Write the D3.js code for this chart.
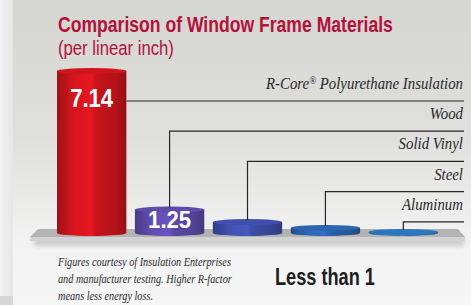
<!DOCTYPE html>
<html><head><meta charset="utf-8">
<script src="https://cdn.jsdelivr.net/npm/d3@7"></script>
<style>
html,body{margin:0;padding:0;background:#efefef;}
svg{display:block;}
</style></head>
<body>
<svg id="chart" width="471" height="305"></svg>
<script>
// ---- data ----
const materials = ["R-Core® Polyurethane Insulation", "Wood", "Solid Vinyl", "Steel", "Aluminum"];
const rValues = [7.14, 1.25, 0.72, 0.47, 0.30];
const valueLabels = ["7.14", "1.25", "", "", ""];
const barColors = ["#c8141c", "#5a49a6", "#3d4ca6", "#2a60a8", "#2b72b6"];
const titleText = "Comparison of Window Frame Materials";
const subtitleText = "(per linear inch)";
const noteLines = ["Figures courtesy of Insulation Enterprises", "and manufacturer testing. Higher R-factor", "means less energy loss."];
const lessText = "Less than 1";

// ---- layout ----
const W = 471, H = 305;
const base = 236;
const svg = d3.select("#chart");
const defs = svg.append("defs");

const x = d3.scaleBand().domain(materials).range([57, 438]).paddingInner(0.11);
const y = d3.scaleLinear().domain([0, 7.14]).range([base, 68]);

const sansN = "'Liberation Sans Narrow','Liberation Sans',Arial,sans-serif";
const serif = "'Liberation Serif','Times New Roman',serif";

function fit(sel, target, ax, ay, anchor) {
  const nat = sel.node().getComputedTextLength();
  const k = Math.min(1.2, target / nat);
  sel.attr("x", 0).attr("y", 0).attr("text-anchor", anchor || "start")
     .attr("transform", `translate(${ax},${ay}) scale(${k},1)`);
  return sel;
}

// backgrounds
const bgL = defs.append("linearGradient").attr("id", "bgL").attr("x1", 0).attr("x2", 1).attr("y1", 0).attr("y2", 0);
bgL.append("stop").attr("offset", 0).attr("stop-color", "#f3f3f3");
bgL.append("stop").attr("offset", 1).attr("stop-color", "#e6e6e6");
const bgP = defs.append("linearGradient").attr("id", "bgP").attr("x1", 0).attr("x2", 0).attr("y1", 0).attr("y2", 1);
bgP.append("stop").attr("offset", 0).attr("stop-color", "#d5d5d1");
bgP.append("stop").attr("offset", 0.45).attr("stop-color", "#dfdfdd");
bgP.append("stop").attr("offset", 0.8).attr("stop-color", "#f3f3f3");
bgP.append("stop").attr("offset", 1).attr("stop-color", "#f6f6f6");
svg.append("rect").attr("x", 0).attr("y", 0).attr("width", 13).attr("height", H).attr("fill", "url(#bgL)");
svg.append("rect").attr("x", 0).attr("y", 296).attr("width", 13).attr("height", 9).attr("fill", "#d6d6d6");
svg.append("rect").attr("x", 13).attr("y", 0).attr("width", W - 13).attr("height", H).attr("fill", "url(#bgP)");

// platform
const shadowF = defs.append("filter").attr("id", "blur").attr("x", "-10%").attr("y", "-50%").attr("width", "120%").attr("height", "200%");
shadowF.append("feGaussianBlur").attr("stdDeviation", 2.5);
svg.append("rect").attr("x", 34).attr("y", 238).attr("width", 430).attr("height", 8).attr("fill", "#9a9a9a").attr("opacity", 0.45).attr("filter", "url(#blur)");
svg.append("polygon").attr("points", "38,229 458,229 465,237 30,237").attr("fill", "#b3b3b3");
svg.append("polygon").attr("points", "30,237 465,237 465,241 30,241").attr("fill", "#d2d2d2");

// bar gradients
barColors.forEach((c, i) => {
  const g = defs.append("linearGradient").attr("id", "bar" + i).attr("x1", 0).attr("x2", 1).attr("y1", 0).attr("y2", 0);
  const col = d3.color(c);
  g.append("stop").attr("offset", 0).attr("stop-color", col.darker(0.6));
  g.append("stop").attr("offset", 0.25).attr("stop-color", col.brighter(0.2));
  g.append("stop").attr("offset", 0.5).attr("stop-color", col.brighter(0.4));
  g.append("stop").attr("offset", 0.56).attr("stop-color", col);
  g.append("stop").attr("offset", 0.85).attr("stop-color", col.darker(0.3));
  g.append("stop").attr("offset", 1).attr("stop-color", col.darker(0.8));
});

const bars = svg.append("g");
materials.forEach((m, i) => {
  const x0 = x(m), bw = x.bandwidth(), top = y(rValues[i]);
  const h = base - top;
  const ry = Math.min(3, h / 2);
  const g = bars.append("g");
  g.append("path")
    .attr("d", `M${x0},${top + ry} L${x0},${base - ry} A${bw / 2},${ry} 0 0 0 ${x0 + bw},${base - ry} L${x0 + bw},${top + ry} Z`)
    .attr("fill", `url(#bar${i})`);
  g.append("ellipse").attr("cx", x0 + bw / 2).attr("cy", top + ry).attr("rx", bw / 2).attr("ry", ry)
    .attr("fill", d3.color(barColors[i]).brighter(0.12));
});

// leader lines & labels
const lineColor = "#262626";
const lineY = i => 101 + i * 30.2;
const rightX = 464;
materials.forEach((m, i) => {
  const cx = x(m) + x.bandwidth() / 2, top = y(rValues[i]);
  let d;
  if (i === 0) d = `M${x(m) + x.bandwidth()},${lineY(i)} H${rightX}`;
  else d = `M${cx},${top + 1} V${lineY(i)} H${rightX}`;
  svg.append("path").attr("d", d).attr("fill", "none").attr("stroke", lineColor).attr("stroke-width", 1.2);
  const t = svg.append("text")
    .attr("font-family", serif).attr("font-style", "italic").attr("font-size", 16.5).attr("fill", "#2a2a2a")
    .attr("transform", `translate(${rightX - 1},${lineY(i) - 12}) scale(0.9,1)`)
    .attr("text-anchor", "end");
  const parts = m.split("®");
  t.append("tspan").text(parts[0]);
  if (parts.length > 1) {
    t.append("tspan").attr("font-size", 10).attr("baseline-shift", "super").text("®");
    t.append("tspan").text(parts[1]);
  }
});

// value labels
materials.forEach((m, i) => {
  if (!valueLabels[i]) return;
  const cx = x(m) + x.bandwidth() / 2;
  const ty = i === 0 ? 107 : 228;
  const fs = i === 0 ? 26 : 23;
  const t = svg.append("text").attr("font-family", sansN).attr("font-weight", "bold")
    .attr("font-size", fs).attr("fill", "#ffffff").text(valueLabels[i]);
  fit(t, 43, cx, ty, "middle");
});

// title
fit(svg.append("text").attr("font-family", sansN).attr("font-weight", "bold")
  .attr("font-size", 22).attr("fill", "#b3123b").text(titleText), 335, 58, 32);
fit(svg.append("text").attr("font-family", sansN)
  .attr("font-size", 20).attr("fill", "#b3123b").text(subtitleText), 116, 58, 55);

// footnote
const noteW = [173, 174, 95];
noteLines.forEach((t, i) => {
  fit(svg.append("text").attr("font-family", serif).attr("font-style", "italic")
    .attr("font-size", 13.5).attr("fill", "#2a2a2a").text(t), noteW[i], 58, 266 + i * 17);
});

fit(svg.append("text").attr("font-family", sansN).attr("font-weight", "bold")
  .attr("font-size", 23).attr("fill", "#1e1e1e").text(lessText), 100, 275, 285);
</script>
</body></html>
